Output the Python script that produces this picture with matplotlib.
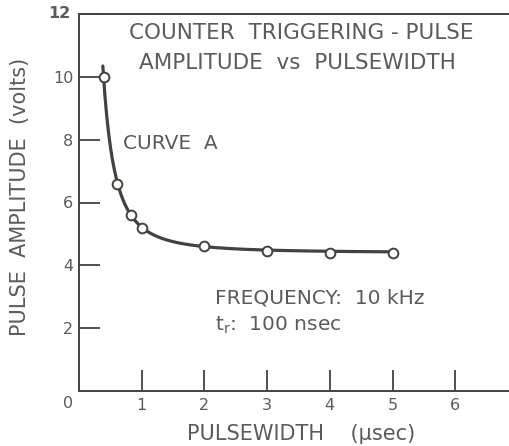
import numpy as np
import matplotlib.pyplot as plt

# measured points, curve A
pulsewidth = [0.4, 0.6, 0.83, 1.0, 2.0, 3.0, 4.0, 5.0]      # usec
amplitude = [10.0, 6.6, 5.6, 5.2, 4.6, 4.45, 4.4, 4.4]      # volts
floor_level = 4.4

x_ticks = [1, 2, 3, 4, 5, 6]
y_ticks = [2, 4, 6, 8, 10, 12]

ink = '#3f443c'
txt = '#5a5c58'

# smooth curve: y = floor + b * x^-n fitted to the points above the floor
px = np.array(pulsewidth[:5])
py = np.array(amplitude[:5]) - floor_level
n, logb = np.polyfit(np.log(px), np.log(py), 1)
xs = np.linspace(0.38, 5.0, 300)
ys = floor_level + np.exp(logb) * xs ** n

fig = plt.figure(figsize=(5.09, 4.46), dpi=100)
ax = fig.add_axes([79 / 509, 1 - 391 / 446, 1 - 79 / 509, 377 / 446])

ax.plot(xs, ys, color=ink, lw=2.3, solid_capstyle='round')
ax.plot(pulsewidth, amplitude, 'o', ms=7, mfc='white', mec=ink, mew=1.4)

ax.set_xlim(0, 430 / 62.7)
ax.set_ylim(0, 12)
ax.set_xticks(x_ticks)
ax.set_yticks(y_ticks)
ax.set_yticklabels(['2', '4', '6', '8', '10', ''])
ax.tick_params(direction='in', length=15, width=1.3, color=ink,
               labelsize=11.5, labelcolor=txt)
ax.tick_params(axis='x', pad=5)
ax.tick_params(axis='y', pad=4)
for s in ['left', 'bottom', 'top']:
    ax.spines[s].set_color(ink)
    ax.spines[s].set_linewidth(1.4)
ax.spines['right'].set_visible(False)

# corner labels
ax.text(-0.14, 12, '12', ha='right', va='center', fontsize=11.5, color=txt,
        fontweight='bold')
ax.text(-0.17, -0.41, '0', ha='center', va='center', fontsize=11.5, color=txt)

ax.text(3.54, 11.39, 'COUNTER  TRIGGERING - PULSE', ha='center', va='center',
        fontsize=15.5, color=txt)
ax.text(3.48, 10.44, 'AMPLITUDE  vs  PULSEWIDTH', ha='center', va='center',
        fontsize=15.5, color=txt)
ax.text(0.7, 7.89, 'CURVE  A', ha='left', va='center', fontsize=14.5, color=txt)
ax.text(2.17, 2.96, 'FREQUENCY:  10 kHz', ha='left', va='center',
        fontsize=14.5, color=txt)
ax.text(2.17, 2.1, r'$\mathregular{t_r}$:  100 nsec', ha='left', va='center',
        fontsize=14.5, color=txt)

ax.set_xlabel('PULSEWIDTH    (μsec)', fontsize=15, color=txt)
ax.set_ylabel('PULSE  AMPLITUDE  (volts)', fontsize=15, color=txt)
ax.xaxis.set_label_coords(0.517, -0.088)
ax.yaxis.set_label_coords(-0.115, 0.515)

fig.savefig('out.png', dpi=100)
